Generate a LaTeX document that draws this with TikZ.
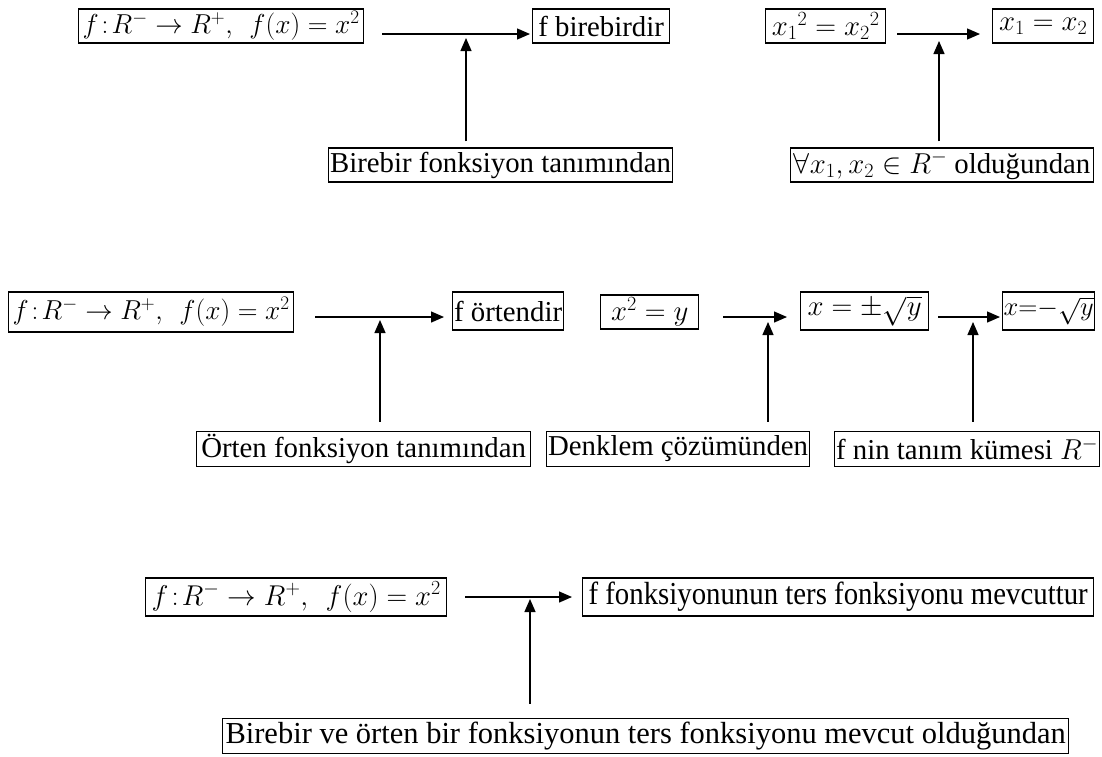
\RequirePackage{fix-cm}
\documentclass[tikz,border=0pt]{standalone}
\usepackage{fontspec}
\setmainfont{Liberation Serif}
\usetikzlibrary{arrows.meta}
\begin{document}
\begin{tikzpicture}[x=1pt,y=-1pt,
  bx/.style={draw, line width=1.3pt, inner sep=1.5pt, anchor=west,
    minimum height=34pt, font=\fontsize{28.8}{32}\selectfont},
  bxm/.style={bx, font=\fontsize{27.4}{31}\selectfont},
  bxl/.style={bx, font=\fontsize{30.5}{34}\selectfont},
  arr/.style={line width=1.3pt, -{Triangle[length=13pt,width=11pt]}}]
\useasboundingbox (0,0) rectangle (1102,756);

% ---------- row 1 ----------
\node[bxm, minimum width=285pt] (A1) at (78,26) {$f\!:\!R^{-}\to R^{+},\;\, f(x)=x^{2}$};
\node[bx, minimum width=137pt] (B1) at (532,26) {f birebirdir};
\node[bx, minimum width=340pt] (C1) at (328,165) {Birebir fonksiyon tanımından};
\node[bx, minimum width=120pt] (D1) at (765,26) {${x_1}^{2}={x_2}^{2}$};
\node[bx, minimum width=101pt] (E1) at (992,26) {$x_1=x_2$};
\node[bx, minimum width=303pt] (F1) at (790,165) {$\forall x_1,x_2\in R^{-}$ olduğundan};

\coordinate (s1) at (382,34);
\coordinate (m1) at (466,38);
\draw[arr] (s1) -- ([xshift=-2pt]B1.west |- s1);
\draw[arr] ([yshift=6pt]C1.north -| m1) -- (m1);

\coordinate (s2) at (897,34);
\coordinate (m2) at (939,41);
\draw[arr] (s2) -- ([xshift=-12pt]E1.west |- s2);
\draw[arr] ([yshift=6pt]F1.north -| m2) -- (m2);

% ---------- row 2 ----------
\node[bxm, minimum width=285pt, minimum height=40pt] (A2) at (8,312) {$f\!:\!R^{-}\to R^{+},\;\, f(x)=x^{2}$};
\node[bx, minimum width=110pt, minimum height=38pt] (B2) at (452,311) {f örtendir};
\node[bx, minimum width=334pt, minimum height=35pt] (C2) at (196,449) {Örten fonksiyon tanımından};
\node[bx, minimum width=98pt] (D2) at (600,312) {$x^{2}=y$};
\node[bx, minimum width=128pt, minimum height=38pt] (E2) at (800,311) {$x=\pm\sqrt{y}$};
\node[bx, minimum width=91pt, minimum height=38pt, inner sep=1pt, font=\fontsize{26.5}{30}\selectfont] (F2) at (1002,311) {$x{=}{-}\sqrt{y}$};
\node[bx, minimum height=35pt] (G2) at (546,449) {Denklem çözümünden};
\node[bx, minimum height=35pt] (H2) at (834,449) {f nin tanım kümesi $R^{-}$};

\coordinate (s3) at (315,317);
\coordinate (m3) at (380,320);
\draw[arr] (s3) -- ([xshift=-8pt]B2.west |- s3);
\draw[arr] ([yshift=9pt]C2.north -| m3) -- (m3);

\coordinate (s4) at (723,317);
\coordinate (m4) at (768,322);
\draw[arr] (s4) -- ([xshift=-13pt]E2.west |- s4);
\draw[arr] ([yshift=9pt]G2.north -| m4) -- (m4);

\coordinate (s5) at (938,317);
\coordinate (m5) at (973,322);
\draw[arr] (s5) -- ([xshift=-2pt]F2.west |- s5);
\draw[arr] ([yshift=9pt]H2.north -| m5) -- (m5);

% ---------- row 3 ----------
\node[bx, minimum width=301pt, minimum height=38pt, font=\fontsize{28.6}{32}\selectfont] (A3) at (145,597) {$f\!:\!R^{-}\to R^{+},\;\, f(x)=x^{2}$};
\node[bx, minimum width=511pt, minimum height=38pt, font=\fontsize{32}{36}\selectfont] (B3) at (582,597) {\scalebox{0.9}[1]{f fonksiyonunun ters fonksiyonu mevcuttur}};
\node[bxl, minimum width=846pt, minimum height=35pt] (C3) at (222,736) {Birebir ve örten bir fonksiyonun ters fonksiyonu mevcut olduğundan};

\coordinate (s6) at (465,597);
\coordinate (m6) at (530,599);
\draw[arr] (s6) -- ([xshift=-10pt]B3.west |- s6);
\draw[arr] ([yshift=14pt]C3.north -| m6) -- (m6);
\end{tikzpicture}
\end{document}
